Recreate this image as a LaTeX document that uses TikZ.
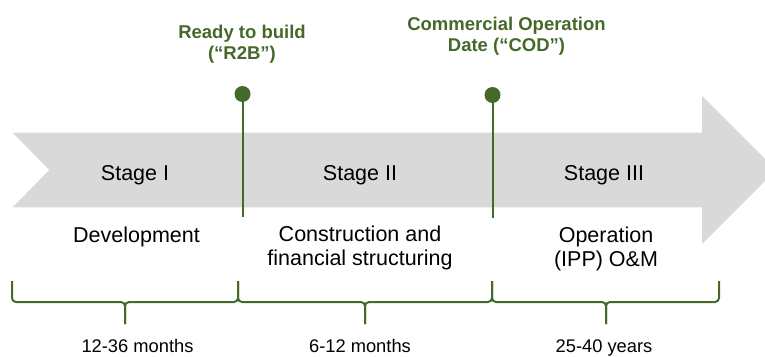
\documentclass[tikz,border=0pt]{standalone}
\usepackage{fontspec}
\setmainfont{Liberation Sans}
\usepackage{tikz}
\usetikzlibrary{positioning,calc}
\definecolor{msgreen}{HTML}{44692A}
\definecolor{bandgrey}{HTML}{D9D9D9}

\begin{document}
\begin{tikzpicture}[x=1pt,y=-1pt,
  stagetxt/.style={font=\fontsize{21.5}{23.5}\selectfont,anchor=base,inner sep=0pt,align=center},
  durtxt/.style={font=\fontsize{18.3}{21}\selectfont,anchor=base,inner sep=0pt},
  mstxt/.style={font=\bfseries\fontsize{18.5}{21}\selectfont,text=msgreen,anchor=base,inner sep=0pt,align=center},
  msdot/.style={circle,fill=msgreen,minimum size=16pt,inner sep=0pt},
  msline/.style={msgreen,line width=2pt},
  brc/.style={msgreen,line width=2pt,rounded corners=4pt}]
\useasboundingbox (0,0) rectangle (765,356);
% grey band: notched tail, head runs off the right edge
\fill[bandgrey] (12.7,132.7) -- (702,132.7) -- (702,96) -- (776,170) -- (702,244)
  -- (702,207.3) -- (12.7,207.3) -- (49.3,170) -- cycle;
% milestones (multi-line labels sit on their last baseline)
\coordinate (r2bfoot) at (242.5,217);
\node[msdot] (r2b) at (242.5,94) {};
\draw[msline] (r2b.center) -- (r2bfoot);
\node[mstxt] (r2blbl) at (242,59.5) {Ready to build\\(“R2B”)};
\coordinate (codfoot) at (492.5,217.5);
\node[msdot] (cod) at (492.5,95) {};
\draw[msline] (cod.center) -- (codfoot);
\node[mstxt] (codlbl) at (506.5,51.5) {Commercial Operation\\Date (“COD”)};
% stages
\node[stagetxt] (st1) at (135,180) {Stage I};
\node[stagetxt] (st2) at (360,180) {Stage II};
\node[stagetxt] (st3) at (604,180) {Stage III};
\node[stagetxt] (dsc1) at (136.5,242) {Development};
\node[stagetxt] (dsc2) at (360,265) {Construction and\\financial structuring};
\node[stagetxt] (dsc3) at (606,266) {Operation\\(IPP) O\&M};
% braces, each as two halves meeting at the tip
\draw[brc] (12,281) -- (12,302) -- (125,302) -- (125,324);
\draw[brc] (238,281) -- (238,302) -- (125,302) -- (125,324);
\draw[brc] (238,281) -- (238,302) -- (365,302) -- (365,324);
\draw[brc] (492,281) -- (492,302) -- (365,302) -- (365,324);
\draw[brc] (492,281) -- (492,302) -- (606,302) -- (606,324);
\draw[brc] (719,281) -- (719,302) -- (606,302) -- (606,324);
\node[durtxt] (dur1) at (137.5,352.7) {12-36 months};
\node[durtxt] (dur2) at (360,352.7) {6-12 months};
\node[durtxt] (dur3) at (604,352.7) {25-40 years};
\end{tikzpicture}
\end{document}
